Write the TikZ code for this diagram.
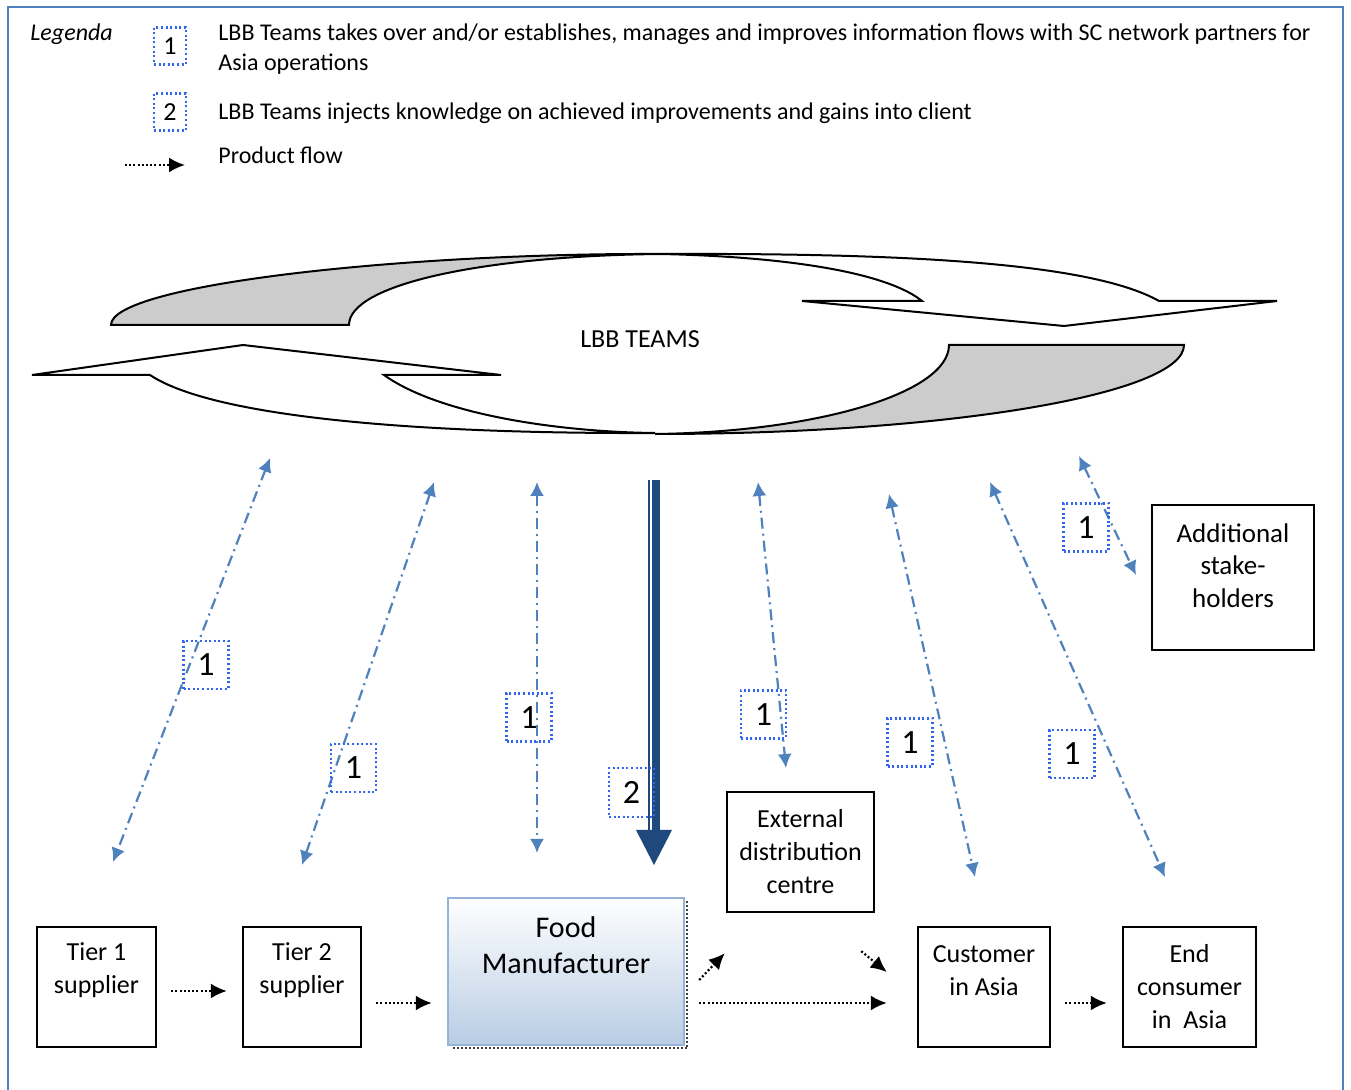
\documentclass[tikz,border=0pt]{standalone}
\usepackage{fontspec}
\setmainfont{Carlito}
\usetikzlibrary{arrows.meta,calc}
\definecolor{frameblue}{RGB}{79,129,189}
\definecolor{infoblue}{RGB}{79,129,189}
\definecolor{tagblue}{RGB}{50,100,240}
\definecolor{knowblue}{RGB}{31,73,125}
\definecolor{fmblue}{RGB}{184,204,228}
\definecolor{fmedge}{RGB}{149,179,215}
\definecolor{cycgray}{RGB}{204,204,204}
\begin{document}
\begin{tikzpicture}[x=0.5pt,y=-0.5pt,
  cyc/.style={draw=black, line width=1pt, line join=miter},
  box/.style={draw=black, line width=1.2pt, inner sep=0pt},
  boxtxt/.style={font=\fontsize{13}{16.5}\selectfont, align=center, inner sep=0pt},
  legtxt/.style={font=\fontsize{12}{15}\selectfont, align=left, inner sep=0pt},
  tag/.style={draw=tagblue, dash pattern=on 1pt off 1.3pt, line width=1.2pt, inner sep=0pt,
    minimum width=22.5pt, minimum height=24pt, font=\fontsize{17}{17}\selectfont},
  legtag/.style={tag, minimum width=16pt, minimum height=18.5pt, font=\fontsize{13}{13}\selectfont},
  info/.style={draw=infoblue, line width=1.1pt, dash pattern=on 5.5pt off 2.5pt on 1pt off 2.5pt,
    {Latex[length=7pt,width=7pt]}-{Latex[length=7pt,width=7pt]}},
  flow/.style={draw=black, line width=1.1pt, dash pattern=on 1pt off 1.1pt,
    -{Latex[length=8pt,width=7.5pt]}},
]
\useasboundingbox (0,0) rectangle (1351,1090);

% open frame
\draw[frameblue, line width=1.4pt] (8,1090) -- (8,7) -- (1343,7) -- (1343,1090);

% legend
\node[legtxt, font=\fontsize{12}{15}\selectfont\itshape, anchor=base west] (legtitle) at (30,41) {Legenda};
\node[legtag] (leg1) at (170,46) {1};
\node[legtxt, anchor=north west] (leg1txt) at (218,23) {LBB Teams takes over and/or establishes, manages and improves information flows with SC network partners for\\Asia operations};
\node[legtag] (leg2) at (170,112) {2};
\node[legtxt, anchor=base west] (leg2txt) at (218,120) {LBB Teams injects knowledge on achieved improvements and gains into client};
\coordinate (legA) at (125,165);
\coordinate (legB) at (185,165);
\draw[flow] (legA) -- (legB);
\node[legtxt, anchor=base west] (leg3txt) at (218,164) {Product flow};

% LBB Teams cycle: upper arrow (tail left, head right)
\draw[cyc, fill=cycgray] (111,325) -- (349,325)
  .. controls (349,285) and (480,256) .. (660,254)
  .. controls (400,253) and (111,285) .. (111,325) -- cycle;
\draw[cyc, fill=white] (660,254)
  .. controls (900,253) and (1090,262) .. (1159,301)
  -- (1277,301) -- (1064,326) -- (802,301) -- (922,301)
  .. controls (890,275) and (800,257) .. (660,254) -- cycle;
% lower arrow (tail right, head left)
\draw[cyc, fill=white] (32,375) -- (243,345) -- (501,375) -- (384,375)
  .. controls (440,415) and (560,432) .. (655,433)
  .. controls (400,434) and (210,415) .. (150,375) -- cycle;
\draw[cyc, fill=cycgray] (949,345) -- (1184,345)
  .. controls (1184,394) and (948,434) .. (655,434)
  .. controls (817,432) and (949,393) .. (949,345) -- cycle;
\node[font=\fontsize{13}{13}\selectfont, inner sep=0pt] (lbb) at (640,339) {LBB TEAMS};

% knowledge injection arrow
\coordinate (kTop) at (654,480);
\coordinate (kTip) at (654,865);
\fill[knowblue] ($(kTop)+(-6,0)$) rectangle ($(kTop)+(-4,350)$);
\fill[knowblue] ($(kTop)+(-2,0)$) rectangle ($(kTop)+(6,350)$);
\fill[knowblue] ($(kTip)+(-18,-35)$) -- ($(kTip)+(18,-35)$) -- (kTip) -- cycle;

% information flows
\coordinate (i1a) at (270,458);  \coordinate (i1b) at (113,862);
\coordinate (i2a) at (434,482);  \coordinate (i2b) at (302,865);
\coordinate (i3a) at (537,482);  \coordinate (i3b) at (537,853);
\coordinate (i4a) at (758,482);  \coordinate (i4b) at (786,768);
\coordinate (i5a) at (889,494);  \coordinate (i5b) at (975,877);
\coordinate (i6a) at (990,482);  \coordinate (i6b) at (1165,877);
\coordinate (i7a) at (1079,456); \coordinate (i7b) at (1136,575);
\foreach \k in {1,...,7} { \draw[info] (i\k a) -- (i\k b); }

\node[tag] (tg1) at (206,665) {1};
\node[tag] (tg2) at (353.5,768) {1};
\node[tag] (tg3) at (529,717.5) {1};
\node[tag] (tg4) at (763.5,714.5) {1};
\node[tag] (tg5) at (910,742.5) {1};
\node[tag] (tg6) at (1072,754) {1};
\node[tag] (tg7) at (1086,527.5) {1};
\node[tag, minimum height=24.5pt] (tgk) at (631.5,792.5) {2};

% supply chain boxes
\node[box, minimum width=59.5pt, minimum height=60pt] (t1) at (96.5,987) {};
\node[boxtxt] (t1txt) at (96.5,970) {Tier 1\\supplier};
\node[box, minimum width=59pt, minimum height=60pt] (t2) at (302,987) {};
\node[boxtxt] (t2txt) at (302,970) {Tier 2\\supplier};
\node[draw=fmedge, line width=1.2pt, top color=white, bottom color=fmblue,
  minimum width=118pt, minimum height=73.5pt, inner sep=0pt] (fm) at (566,971.5) {};
\draw[densely dotted, line width=1pt, black!75] ($(fm.north east)+(2,4)$) -- ($(fm.south east)+(2,2)$) -- ($(fm.south west)+(4,2)$);
\node[boxtxt, font=\fontsize{15}{18}\selectfont] (fmtxt) at (566,945) {Food\\Manufacturer};
\node[box, minimum width=73.5pt, minimum height=60pt] (edc) at (800.5,852) {};
\node[boxtxt] (edctxt) at (800.5,852) {External\\distribution\\centre};
\node[box, minimum width=66pt, minimum height=60pt] (cia) at (984,987) {};
\node[boxtxt] (ciatxt) at (984,970.5) {Customer\\in Asia};
\node[box, minimum width=66.5pt, minimum height=60pt] (eca) at (1189.5,987) {};
\node[boxtxt] (ecatxt) at (1189.5,987) {End\\consumer\\in~~Asia};
\node[box, minimum width=81pt, minimum height=72.5pt] (ash) at (1233,577.5) {};
\node[boxtxt, font=\fontsize{13.5}{16.25}\selectfont] (ashtxt) at (1233,565.5) {Additional\\stake-\\holders};

% product flows
\draw[flow] ($(t1.east)+(14,4)$) -- ($(t2.west)+(-15,4)$);
\draw[flow] ($(t2.east)+(14,16)$) -- ($(fm.west |- t2.east)+(-15,16)$);
\draw[flow] ($(fm.east |- cia.west)+(14,16)$) -- ($(cia.west)+(-30,16)$);
\draw[flow] ($(fm.east)+(14,8.5)$) -- ($(edc.south west)+(-1,40)$);
\draw[flow] ($(edc.south east)+(-14,38)$) -- ($(cia.west)+(-30,-15)$);
\draw[flow] ($(cia.east)+(14,16)$) -- ($(eca.west)+(-15,16)$);
\end{tikzpicture}
\end{document}
